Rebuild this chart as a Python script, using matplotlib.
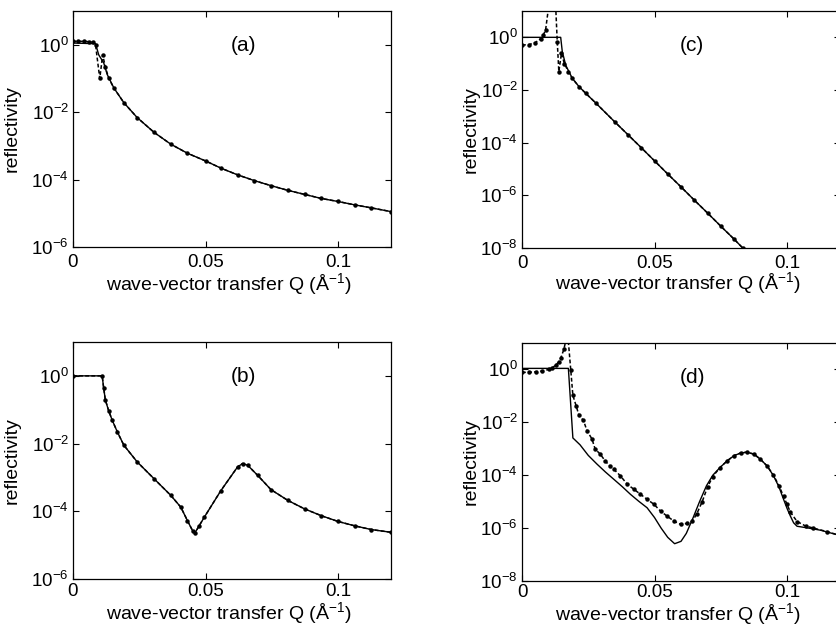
import numpy as np
import matplotlib
matplotlib.use("Agg")
import matplotlib.pyplot as plt

plt.rcParams['font.family'] = ['Liberation Sans', 'DejaVu Sans']
plt.rcParams['mathtext.fontset'] = 'custom'
plt.rcParams['mathtext.rm'] = 'Liberation Sans'
plt.rcParams['mathtext.it'] = 'Liberation Sans:italic'

# ---------------- data (Q in 1/Angstrom, log10 reflectivity) ----------------
# panel (a)
a_fit_Q = [0, 0.0085, 0.0097, 0.0116, 0.0129, 0.0154, 0.0192, 0.0242, 0.0306, 0.0369,
           0.0432, 0.0501, 0.0558, 0.0621, 0.0684, 0.0747, 0.0811, 0.0874, 0.0937, 0.1,
           0.1063, 0.1126, 0.12]
a_fit_logR = [0.05, 0.03, -0.3, -0.54, -0.88, -1.28, -1.72, -2.16, -2.6, -2.95,
              -3.22, -3.45, -3.66, -3.86, -4.03, -4.18, -4.32, -4.44, -4.56, -4.65,
              -4.75, -4.84, -4.95]
a_data_Q = [0, 0.002, 0.004, 0.006, 0.0075, 0.0085, 0.0101, 0.0112, 0.0122, 0.0135,
            0.0154, 0.0192, 0.0242, 0.0306, 0.0369, 0.0432, 0.0501, 0.0558, 0.0621,
            0.0684, 0.0747, 0.0811, 0.0874, 0.0937, 0.1, 0.1063, 0.1126, 0.12]
a_data_logR = [0.1, 0.1, 0.1, 0.09, 0.08, 0.0, -1.0, -0.3, -0.66, -1.0,
               -1.28, -1.72, -2.16, -2.6, -2.95, -3.22, -3.45, -3.66, -3.86,
               -4.03, -4.18, -4.32, -4.44, -4.56, -4.65, -4.75, -4.84, -4.95]

# panel (b)
b_fit_Q = [0, 0.011, 0.0116, 0.0122, 0.0135, 0.0148, 0.0167, 0.0192, 0.0242, 0.0306,
           0.0369, 0.0407, 0.0432, 0.0451, 0.0460, 0.0476, 0.0495, 0.0558, 0.0621,
           0.0640, 0.0659, 0.0697, 0.0747, 0.0811, 0.0874, 0.0937, 0.1, 0.1063,
           0.1126, 0.12]
b_fit_logR = [0, 0, -0.37, -0.71, -1.04, -1.31, -1.65, -2.05, -2.54, -3.04,
              -3.53, -3.88, -4.28, -4.57, -4.64, -4.43, -4.18, -3.39, -2.69,
              -2.59, -2.64, -2.94, -3.36, -3.68, -3.93, -4.13, -4.30, -4.43,
              -4.54, -4.62]
b_data_Q = b_fit_Q
b_data_logR = b_fit_logR

# panel (c)
c_fit_Q = [0, 0.0146, 0.0152, 0.0165, 0.019, 0.0215, 0.0241, 0.028, 0.035, 0.040,
           0.045, 0.050, 0.055, 0.060, 0.065, 0.070, 0.075, 0.080, 0.0833]
c_fit_logR = [0, 0, -0.54, -1.06, -1.56, -1.87, -2.13, -2.51, -3.21, -3.70,
              -4.19, -4.69, -5.19, -5.68, -6.18, -6.67, -7.17, -7.66, -8.0]
c_data_Q = [0, 0.0025, 0.005, 0.007, 0.008, 0.0089, 0.0101, 0.0127, 0.0133, 0.0139,
            0.0149, 0.0160, 0.0175, 0.019, 0.0215, 0.0241, 0.028, 0.035, 0.040,
            0.045, 0.050, 0.055, 0.060, 0.065, 0.070, 0.075, 0.080, 0.0833]
c_data_logR = [-0.29, -0.28, -0.2, -0.05, 0.08, 0.28, 1.2, 1.2, -0.16, -1.30,
               -0.6, -1.0, -1.3, -1.56, -1.87, -2.13, -2.51, -3.21, -3.70,
               -4.19, -4.69, -5.19, -5.68, -6.18, -6.67, -7.17, -7.66, -8.0]

# panel (d)
d_fit_Q = [0, 0.0175, 0.0192, 0.0219, 0.0250, 0.0283, 0.0315, 0.0346, 0.0378, 0.0409,
           0.0440, 0.0472, 0.0500, 0.0525, 0.0550, 0.0576, 0.0600, 0.0620, 0.0646,
           0.0670, 0.0696, 0.0720, 0.0747, 0.0775, 0.0800, 0.0825, 0.0848, 0.0875,
           0.0899, 0.0925, 0.0949, 0.0970, 0.0987, 0.1000, 0.1013, 0.1025, 0.1038,
           0.1076, 0.1127, 0.12]
d_fit_logR = [0.04, 0.04, -2.59, -2.85, -3.25, -3.58, -3.88, -4.15, -4.43, -4.72,
              -4.98, -5.23, -5.6, -6.0, -6.35, -6.59, -6.5, -6.2, -5.6,
              -5.0, -4.4, -4.0, -3.71, -3.45, -3.26, -3.16, -3.13, -3.2,
              -3.39, -3.65, -4.02, -4.45, -4.91, -5.25, -5.55, -5.8, -5.93,
              -5.99, -6.08, -6.28]
d_data_Q = [0, 0.0025, 0.0051, 0.0076, 0.0101, 0.0115, 0.0127, 0.0138, 0.0146, 0.0158,
            0.0172, 0.0184, 0.0192, 0.0205, 0.0215, 0.0232, 0.0245, 0.0264, 0.0276,
            0.0295, 0.0314, 0.0333, 0.0346, 0.0371, 0.0397, 0.0422, 0.0447, 0.0472,
            0.0498, 0.0523, 0.0548, 0.0574, 0.0599, 0.0624, 0.0643, 0.0660, 0.0680,
            0.0700, 0.0720, 0.0747, 0.0775, 0.0800, 0.0825, 0.0848, 0.0875, 0.0899,
            0.0925, 0.0949, 0.0970, 0.0987, 0.1000, 0.1013, 0.1038, 0.1070, 0.1100,
            0.1150, 0.1200]
d_data_logR = [-0.11, -0.11, -0.09, -0.06, 0.0, 0.07, 0.16, 0.28, 0.42, 0.76,
               1.4, -0.02, -0.98, -1.4, -1.74, -1.93, -2.31, -2.63, -3.01,
               -3.2, -3.46, -3.67, -3.77, -4.02, -4.34, -4.53, -4.72, -4.91,
               -5.1, -5.36, -5.55, -5.74, -5.86, -5.82, -5.74, -5.45, -5.0,
               -4.45, -4.05, -3.71, -3.45, -3.26, -3.16, -3.13, -3.2, -3.39,
               -3.65, -4.0, -4.4, -4.8, -5.1, -5.4, -5.75, -5.92, -6.0,
               -6.13, -6.28]

panel_labels = ['(a)', '(b)', '(c)', '(d)']
x_ticks = [0, 0.05, 0.1]
x_ticklabels = ['0', '0.05', '0.1']
xlabel_text = r'wave-vector transfer Q (Å$^{-1}$)'
ylabel_text = 'reflectivity'

# ---------------- figure ----------------
W, H = 836, 626
fig = plt.figure(figsize=(W / 100, H / 100), dpi=100)

def px_axes(x0, y0, x1, y1):
    return fig.add_axes([x0 / W, 1 - y1 / H, (x1 - x0) / W, (y1 - y0) / H])

panels = [
    dict(rect=(73, 11, 391, 247), fit=(a_fit_Q, a_fit_logR), data=(a_data_Q, a_data_logR),
         ymin=-6, label=panel_labels[0], ylab_x=-0.19, xlab_y=-0.155, xpad=5),
    dict(rect=(73, 342, 391, 579), fit=(b_fit_Q, b_fit_logR), data=(b_data_Q, b_data_logR),
         ymin=-6, label=panel_labels[1], ylab_x=-0.19, xlab_y=-0.145, xpad=3),
    dict(rect=(522, 11, 840, 248), fit=(c_fit_Q, c_fit_logR), data=(c_data_Q, c_data_logR),
         ymin=-8, label=panel_labels[2], ylab_x=-0.16, xlab_y=-0.15, xpad=5),
    dict(rect=(522, 343, 840, 581), fit=(d_fit_Q, d_fit_logR), data=(d_data_Q, d_data_logR),
         ymin=-8, label=panel_labels[3], ylab_x=-0.16, xlab_y=-0.137, xpad=2.5),
]

for p in panels:
    ax = px_axes(*p['rect'])
    fq, fl = p['fit']
    dq, dl = p['data']
    ax.semilogy(fq, 10.0 ** np.array(fl), '-', color='black', lw=1.0, zorder=3)
    ax.semilogy(dq, 10.0 ** np.array(dl), color='black', lw=1.1, ls=(0, (2.5, 1.5)),
                marker='o', ms=2.2, mec='black', mfc='black', zorder=4)
    ax.set_xlim(0, 0.12)
    ax.set_ylim(10.0 ** p['ymin'], 10.0)
    ax.set_xticks(x_ticks)
    ax.set_xticklabels(x_ticklabels)
    exps = list(range(0, p['ymin'] - 1, -2))
    ax.set_yticks([10.0 ** k for k in exps])
    ax.set_yticklabels([r'$\mathdefault{10^{%d}}$' % k for k in exps])
    ax.minorticks_off()
    ax.tick_params(direction='in', top=True, right=True, length=4, width=0.8,
                   labelsize=13.5, color='black')
    ax.tick_params(axis='x', pad=p['xpad'])
    ax.tick_params(axis='y', pad=3)
    for s in ax.spines.values():
        s.set_linewidth(0.9)
    ax.set_xlabel(xlabel_text, fontsize=14, va='center')
    ax.xaxis.set_label_coords(0.49, p['xlab_y'])
    ax.set_ylabel(ylabel_text, fontsize=14, va='center')
    ax.yaxis.set_label_coords(p['ylab_x'], 0.5)
    ax.text(0.535, 0.855, p['label'], transform=ax.transAxes, fontsize=15,
            ha='center', va='center')

fig.savefig('out.png', dpi=100)
